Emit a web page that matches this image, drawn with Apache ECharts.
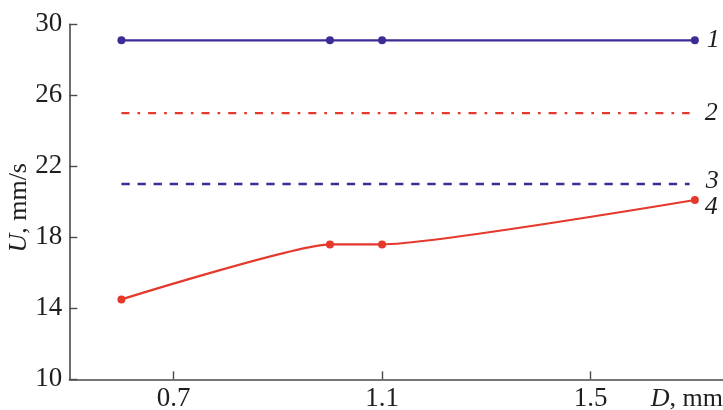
<!DOCTYPE html>
<html>
<head>
<meta charset="utf-8">
<script src="https://cdn.jsdelivr.net/npm/echarts@6/dist/echarts.min.js"></script>
<style>
  html, body { margin: 0; padding: 0; background: #fff; }
  #chart { width: 723px; height: 410px; }
</style>
</head>
<body>
<div id="chart"></div>
<script>
// Particle diameter D (mm) at which velocity was measured
const diameters = [0.6, 1.0, 1.1, 1.7];
// Curve 1: measured velocity, mm/s
const curve1 = [29.1, 29.1, 29.1, 29.1];
// Curve 4: measured velocity, mm/s
const curve4 = [14.5, 17.6, 17.6, 20.1];
// Constant reference levels 2 and 3 and their D extent
const level2 = 25.0;
const level3 = 21.0;
const levelSpan = [0.6, 1.69];
// Axis tick values
const xTicks = [0.7, 1.1, 1.5];
const yTicks = [10, 14, 18, 22, 26, 30];
const curveNames = ['1', '2', '3', '4'];

const BLUE = '#3a2d96';
const RED = '#e5392d';
const FONT = 'Liberation Serif';
const INK = '#1e1e1e';

const pairs = (xs, ys) => xs.map((x, i) => [x, ys[i]]);
const flat = (xs, y) => xs.map(x => [x, y]);

const endLabel = (dist, offset) => ({
  show: true,
  formatter: p => p.seriesName,
  distance: dist,
  offset: offset || [0, 0],
  fontFamily: FONT,
  fontStyle: 'italic',
  fontSize: 26,
  color: INK
});

const nameRich = {
  i: { fontFamily: FONT, fontStyle: 'italic', fontSize: 26, color: INK },
  r: { fontFamily: FONT, fontSize: 26, color: INK }
};

const chart = echarts.init(document.getElementById('chart'), null, { renderer: 'canvas' });
chart.setOption({
  animation: false,
  backgroundColor: '#fff',
  grid: {
    left: 69.3, right: 0, top: 24.3, bottom: 30.7,
    containLabel: false,
    outerBoundsMode: 'none'
  },
  xAxis: {
    type: 'value',
    min: 0.5,
    max: 1.754,
    name: '{i|D}{r|, mm}',
    nameLocation: 'end',
    nameGap: 0,
    nameMoveOverlap: false,
    nameTextStyle: {
      rich: nameRich,
      align: 'right',
      verticalAlign: 'top',
      padding: [7, 0, 0, 0]
    },
    axisLine: { show: true, lineStyle: { color: '#4a4a4a', width: 1.6 } },
    axisTick: { show: true, inside: true, length: 8, customValues: xTicks, lineStyle: { color: '#4a4a4a', width: 1.4 } },
    axisLabel: {
      customValues: xTicks,
      formatter: v => v.toFixed(1),
      fontFamily: FONT, fontSize: 27, color: INK, margin: 6
    },
    splitLine: { show: false }
  },
  yAxis: {
    type: 'value',
    min: 10,
    max: 30,
    name: '{i|U}{r|, mm/s}',
    nameLocation: 'middle',
    nameRotate: 90,
    nameGap: 37,
    nameMoveOverlap: false,
    nameTextStyle: {
      rich: nameRich,
      padding: [0, 12, 0, 0]
    },
    axisLine: { show: true, lineStyle: { color: '#4a4a4a', width: 1.6 } },
    axisTick: { show: true, inside: true, length: 8, customValues: yTicks, lineStyle: { color: '#4a4a4a', width: 1.4 } },
    axisLabel: {
      customValues: yTicks,
      fontFamily: FONT, fontSize: 27, color: INK, margin: 7
    },
    splitLine: { show: false }
  },
  series: [
    {
      name: curveNames[0],
      type: 'line',
      data: pairs(diameters, curve1),
      symbol: 'circle',
      symbolSize: 8,
      itemStyle: { color: BLUE },
      lineStyle: { color: BLUE, width: 2.2 },
      endLabel: endLabel(12, [0, 0])
    },
    {
      name: curveNames[1],
      type: 'line',
      data: flat(levelSpan, level2),
      symbol: 'none',
      lineStyle: { color: RED, width: 2.2, type: [8, 8, 2.7, 8] },
      endLabel: endLabel(15, [0, 0])
    },
    {
      name: curveNames[2],
      type: 'line',
      data: flat(levelSpan, level3),
      symbol: 'none',
      lineStyle: { color: BLUE, width: 2.4, type: [8.3, 7.8] },
      endLabel: endLabel(16, [0, -3])
    },
    {
      name: curveNames[3],
      type: 'line',
      data: pairs(diameters, curve4),
      smooth: 0.15,
      symbol: 'circle',
      symbolSize: 8,
      itemStyle: { color: RED },
      lineStyle: { color: RED, width: 2.2 },
      endLabel: endLabel(10, [0, 7])
    }
  ]
});
</script>
</body>
</html>
